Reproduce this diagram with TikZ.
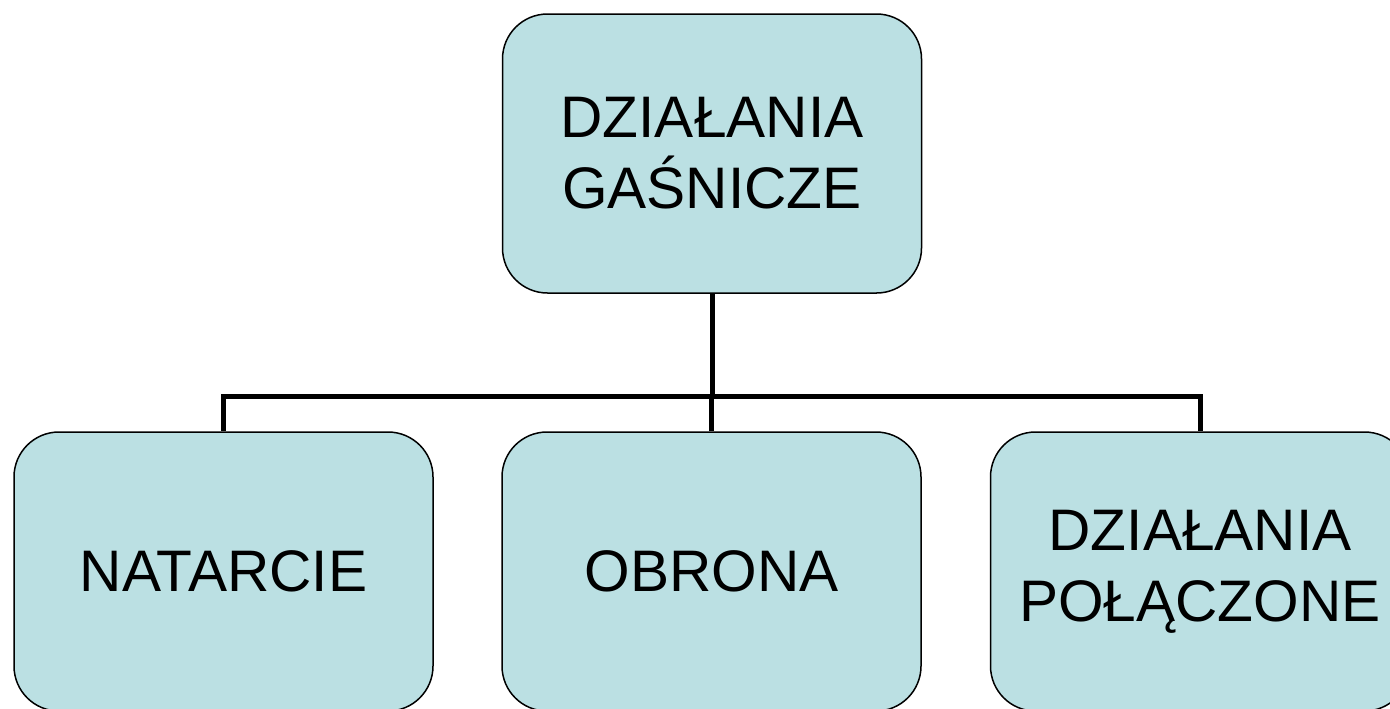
\documentclass[tikz,border=0pt]{standalone}
\usepackage{fontspec}
\setmainfont{Liberation Sans}
\definecolor{boxfill}{RGB}{187,224,227}

\begin{document}
\begin{tikzpicture}[x=0.5pt, y=-0.5pt,
  box/.style={draw=black, line width=0.75pt, fill=boxfill, rounded corners=22.5pt,
    minimum width=209.5pt, minimum height=139.5pt, inner sep=0pt, align=center,
    font=\fontsize{29.3}{35.5}\selectfont},
  link/.style={line width=2.5pt, line join=miter}]

% page frame
\clip (0,0) rectangle (1390,708);

% top box
\node[box] (gasnicze) at (712,153.5) {DZIAŁANIA\\GAŚNICZE};

% bottom row
\node[box] (natarcie) at (223.5,571.5) {NATARCIE};
\node[box] (obrona) at (711.5,571.5) {OBRONA};
\node[box] (polaczone) at (1200,571.5) {DZIAŁANIA\\POŁĄCZONE};

% tree lines
\coordinate (bar) at (712,396);
\draw[link] (gasnicze.south) -- (bar);
\draw[link] (natarcie.north) |- (bar) -| (polaczone.north);
\draw[link] (obrona.north) -- (obrona.north |- bar);

\end{tikzpicture}
\end{document}
